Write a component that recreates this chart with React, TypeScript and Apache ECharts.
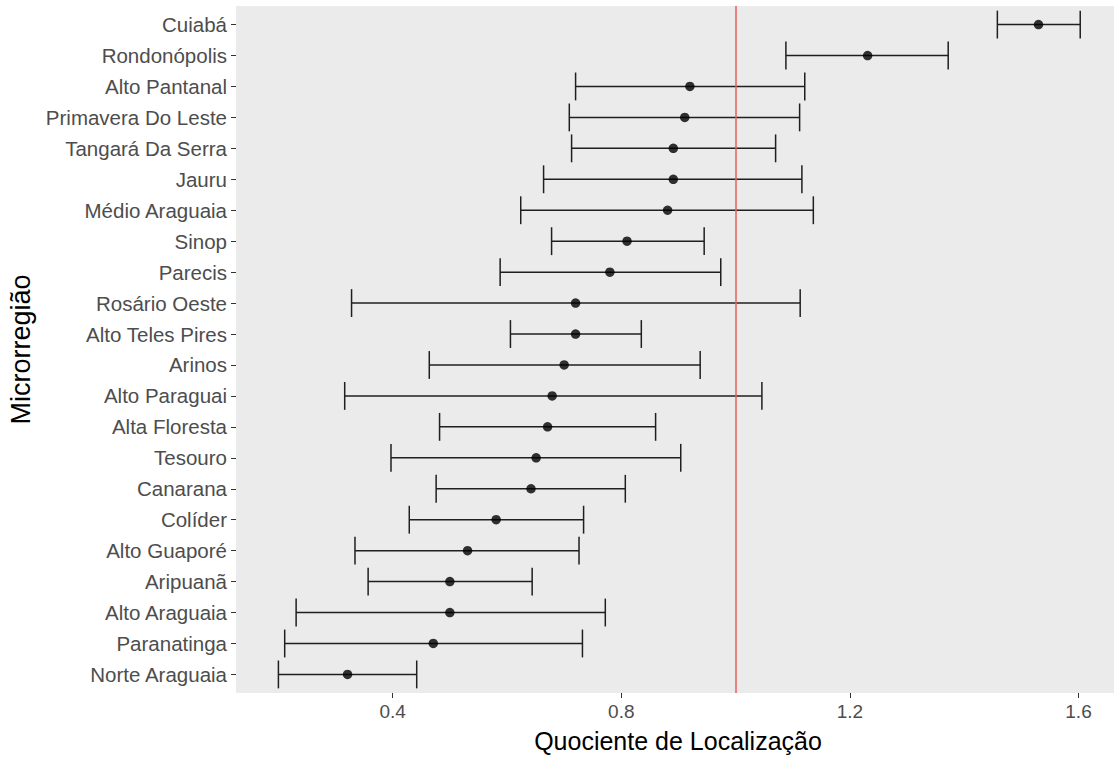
import React, { useEffect, useRef } from "react";
import * as echarts from "echarts";

const categories = [
  "Cuiabá",
  "Rondonópolis",
  "Alto Pantanal",
  "Primavera Do Leste",
  "Tangará Da Serra",
  "Jauru",
  "Médio Araguaia",
  "Sinop",
  "Parecis",
  "Rosário Oeste",
  "Alto Teles Pires",
  "Arinos",
  "Alto Paraguai",
  "Alta Floresta",
  "Tesouro",
  "Canarana",
  "Colíder",
  "Alto Guaporé",
  "Aripuanã",
  "Alto Araguaia",
  "Paranatinga",
  "Norte Araguaia",
];
const estimate = [1.530, 1.231, 0.920, 0.911, 0.891, 0.891, 0.881, 0.810, 0.780, 0.720, 0.720, 0.700, 0.679, 0.671, 0.651, 0.642, 0.581, 0.531, 0.500, 0.500, 0.471, 0.321];
const lower = [1.458, 1.088, 0.720, 0.709, 0.713, 0.664, 0.624, 0.678, 0.588, 0.328, 0.606, 0.464, 0.316, 0.482, 0.397, 0.476, 0.429, 0.334, 0.357, 0.231, 0.211, 0.200];
const upper = [1.603, 1.372, 1.121, 1.112, 1.070, 1.116, 1.136, 0.945, 0.974, 1.113, 0.835, 0.938, 1.046, 0.860, 0.904, 0.807, 0.734, 0.726, 0.644, 0.772, 0.732, 0.442];
const xTicks = [0.4, 0.8, 1.2, 1.6];
const refLine = 1;
const xTitle = "Quociente de Localização";
const yTitle = "Microrregião";

export default function App() {
  const ref = useRef<HTMLDivElement>(null);
  useEffect(() => {
    if (!ref.current) return;
    const chart = echarts.init(ref.current, null, { renderer: "svg" });
    const idx = categories.map((_, i) => i);
    const font = "'Liberation Sans', Arial, sans-serif";
    chart.setOption({
      animation: false,
      backgroundColor: "#ffffff",
      grid: {
        left: 236,
        right: -6,
        top: 6,
        bottom: 67,
        show: true,
        backgroundColor: "#EBEBEB",
        borderWidth: 0,
        containLabel: false,
        outerBoundsMode: "none",
      },
      xAxis: {
        type: "value",
        min: 0.1258,
        max: 1.6726,
        name: xTitle,
        nameLocation: "middle",
        nameGap: 35,
        nameTextStyle: { fontSize: 25, color: "#000000", fontFamily: font },
        axisLine: { show: false, onZero: false },
        axisTick: { show: true, length: 5, customValues: xTicks, lineStyle: { color: "#333333", width: 1 } },
        axisLabel: {
          customValues: xTicks,
          fontSize: 19,
          color: "#4d4d4d",
          fontFamily: font,
          margin: 9,
          formatter: (v: number) => v.toFixed(1),
        },
        splitLine: { show: false },
      },
      yAxis: {
        type: "value",
        inverse: true,
        min: -0.6,
        max: 21.6,
        name: yTitle,
        nameLocation: "middle",
        nameGap: 198,
        nameRotate: 90,
        nameTextStyle: { fontSize: 27, color: "#000000", fontFamily: font },
        axisLine: { show: false, onZero: false },
        axisTick: { show: true, length: 5, customValues: idx, lineStyle: { color: "#333333", width: 1 } },
        axisLabel: {
          customValues: idx,
          fontSize: 20.5,
          color: "#4d4d4d",
          fontFamily: font,
          margin: 9,
          formatter: (v: number) => categories[Math.round(v)] ?? "",
        },
        splitLine: { show: false },
      },
      series: [
        {
          type: "custom",
          data: categories.map((_, i) => [i, lower[i], upper[i]]),
          encode: { x: [1, 2], y: 0 },
          renderItem: (params: any, api: any) => {
            const y = api.value(0);
            const lo = api.coord([api.value(1), y]);
            const hi = api.coord([api.value(2), y]);
            const half = (api.size([0, 1])[1] * 0.9) / 2;
            const style = { stroke: "#1f1f1f", lineWidth: 1.5 };
            return {
              type: "group",
              children: [
                { type: "line", shape: { x1: lo[0], y1: lo[1], x2: hi[0], y2: hi[1] }, style },
                { type: "line", shape: { x1: lo[0], y1: lo[1] - half, x2: lo[0], y2: lo[1] + half }, style },
                { type: "line", shape: { x1: hi[0], y1: hi[1] - half, x2: hi[0], y2: hi[1] + half }, style },
              ],
            };
          },
          z: 2,
        },
        {
          type: "scatter",
          data: estimate.map((v, i) => [v, i]),
          symbol: "circle",
          symbolSize: 9.5,
          itemStyle: { color: "#000000" },
          z: 4,
          markLine: {
            silent: true,
            symbol: "none",
            label: { show: false },
            lineStyle: { color: "#e5605a", width: 1.5, type: "solid" },
            data: [{ xAxis: refLine }],
          },
        },
      ],
    });
    return () => chart.dispose();
  }, []);
  return (
    <div
      ref={ref}
      style={{ position: "fixed", left: 0, top: 0, width: 1114, height: 760, background: "#ffffff" }}
    />
  );
}
